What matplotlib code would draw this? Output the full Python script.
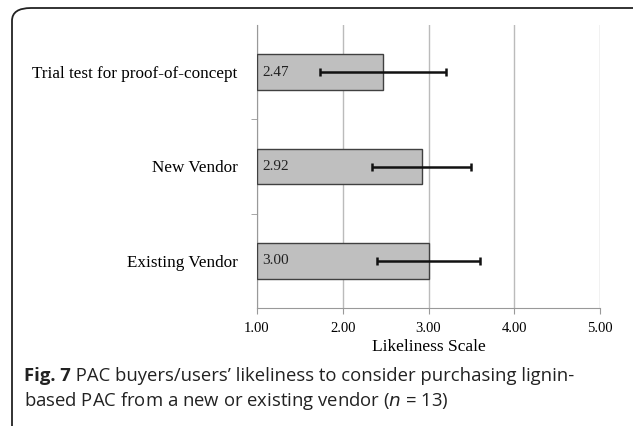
import matplotlib.pyplot as plt
from matplotlib.patches import FancyBboxPatch
from matplotlib.ticker import FixedLocator

# likeliness ratings (mean and spread), listed bottom to top
labels = ['Existing Vendor', 'New Vendor', 'Trial test for proof-of-concept']
means = [3.00, 2.92, 2.47]
errs = [0.60, 0.58, 0.73]
xticks = [1, 2, 3, 4, 5]

W, H = 633, 426
fig = plt.figure(figsize=(W / 100, H / 100), dpi=100)

# rounded frame around the figure
frame = FancyBboxPatch((12 / W, -40 / H), (W + 40) / W, (H - 8 + 40) / H,
                       boxstyle='round,pad=0,rounding_size=0.03',
                       transform=fig.transFigure, fill=False,
                       edgecolor='#222222', linewidth=1.3)
fig.patches.append(frame)

ax = fig.add_axes([257 / W, 1 - 308 / H, 343 / W, 283 / H])
serif = 'Liberation Serif'

pos = list(range(len(labels)))
ax.barh(pos, [m - 1 for m in means], left=1, height=0.38, color='#bfbfbf',
        edgecolor='#404040', linewidth=1.0, zorder=3)
ax.errorbar(means, pos, xerr=errs, fmt='none', ecolor='#111111',
            elinewidth=1.8, capsize=3, capthick=1.8, zorder=4)
for p, m in zip(pos, means):
    ax.text(1.06, p, f'{m:.2f}', va='center', ha='left', fontsize=11,
            family=serif, color='#222222', zorder=5)

ax.set_xlim(1, 5)
ax.set_ylim(-0.5, len(labels) - 0.5)
ax.set_xticks(xticks)
ax.set_xticklabels([f'{v:.2f}' for v in xticks], family=serif, fontsize=10.5)
ax.set_yticks(pos)
ax.set_yticklabels(labels, family=serif, fontsize=12.3)
ax.yaxis.set_minor_locator(FixedLocator([0.5, 1.5]))
ax.tick_params(axis='y', which='major', length=0, pad=14)
ax.tick_params(axis='y', which='minor', length=4, color='#999999')
ax.tick_params(axis='x', length=4, color='#999999', pad=6)
ax.grid(axis='x', color='#bbbbbb', linewidth=1.0, zorder=0)
for s in ['top', 'right']:
    ax.spines[s].set_visible(False)
for s in ['left', 'bottom']:
    ax.spines[s].set_color('#999999')
ax.set_xlabel('Likeliness Scale', family=serif, fontsize=12.5, labelpad=3)

# caption: bold figure number followed by the regular text
cap = dict(fontsize=13.3, family='Open Sans', color='#222222')
fig_no = fig.text(24 / W, 1 - 381 / H, 'Fig. 7', fontweight='bold',
                  va='baseline', **cap)
ax.annotate(" PAC buyers/users\u2019 likeliness to consider purchasing lignin-",
            xy=(1, 0), xycoords=fig_no, va='bottom', ha='left', **cap)
fig.text(24 / W, 1 - 406 / H,
         'based PAC from a new or existing vendor ($\\it{n}$ = 13)',
         va='baseline', **cap)

fig.savefig('out.png', dpi=100)
